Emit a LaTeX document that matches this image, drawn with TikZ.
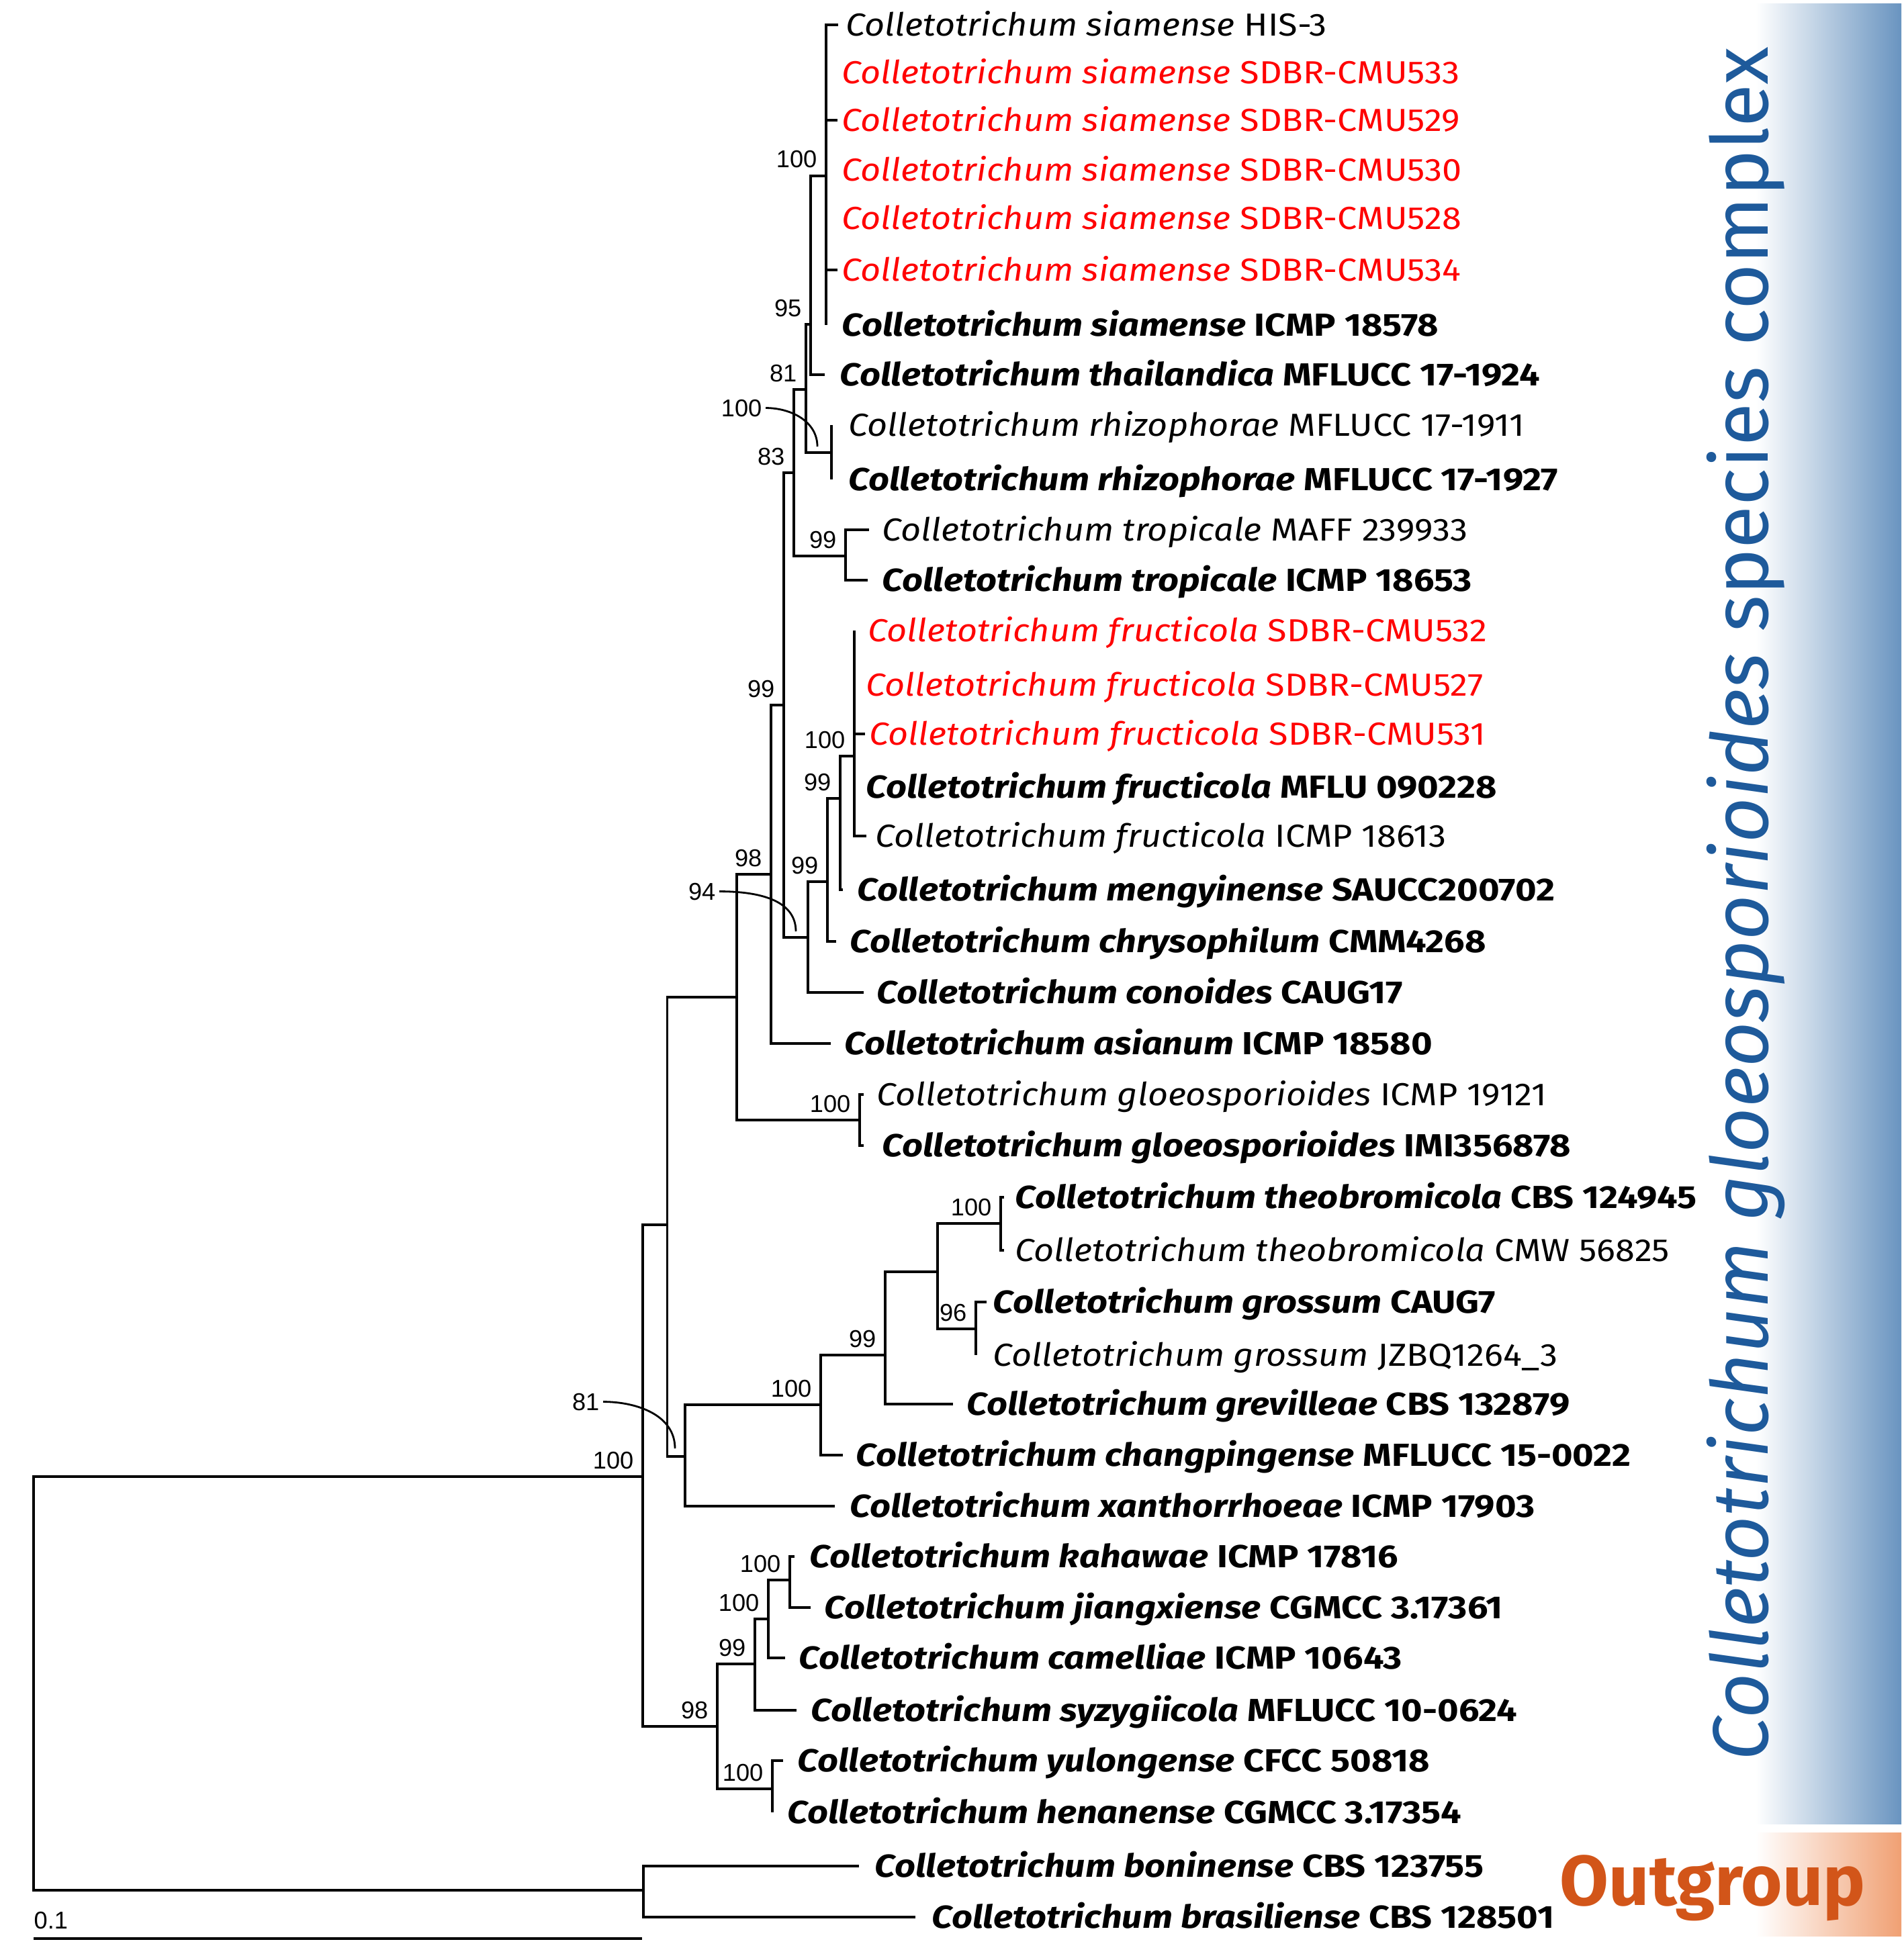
\documentclass[tikz,border=0pt]{standalone}
\usepackage{fontspec}
\setmainfont{Fira Sans}[UprightFeatures={FakeStretch=1.10}, ItalicFeatures={FakeStretch=1.10}, BoldFeatures={FakeStretch=1.14}, BoldItalicFeatures={FakeStretch=1.14}]
\newfontfamily\titlefont{Fira Sans}
\newfontfamily\numfont{Liberation Sans}
\usetikzlibrary{positioning}
\definecolor{isored}{RGB}{255,0,0}
\definecolor{titleblue}{RGB}{30,90,155}
\definecolor{barblue}{RGB}{105,148,192}
\definecolor{outorange}{RGB}{210,85,25}
\definecolor{barorange}{RGB}{240,160,115}
\tikzset{
  br/.style={line width=0.95pt},
  sp/.style={anchor=base west, inner sep=0pt, yshift=-1.65mm, font=\fontsize{13.5}{16}\selectfont},
  spb/.style={sp, font=\fontsize{13.5}{16}\selectfont\bfseries},
  spr/.style={sp, text=isored},
  bs/.style={anchor=base east, inner sep=0pt, xshift=-1.3mm, yshift=1.2mm, font=\numfont\fontsize{10.3}{12}\selectfont},
  bsl/.style={anchor=base east, inner sep=0pt, font=\numfont\fontsize{10.3}{12}\selectfont},
  hook/.style={line width=0.8pt}
}

\begin{document}
\begin{tikzpicture}
\useasboundingbox (0,0) rectangle (28.35,-29.07);
\shade[left color=white, right color=barblue] (26.14,-0.06) rectangle (28.31,-27.16);
\shade[left color=white, right color=barorange] (26.14,-27.29) rectangle (28.31,-28.83);
\node[rotate=90, anchor=base, inner sep=0pt, text=titleblue, font=\titlefont\fontsize{33.3}{38}\selectfont] (cgsc) at (26.32,-13.46) {\textit{Colletotrichum gloeosporioides} species complex};
\node[anchor=base, inner sep=0pt, text=outorange, font=\titlefont\fontsize{30}{34}\selectfont\bfseries] (outg) at (25.50,-28.37) {Outgroup};

\coordinate (root) at (0.50,-25.07);
\coordinate (nIn) at (9.57,-21.99);
\coordinate (nOut) at (9.58,-28.15);
\coordinate (nI2) at (9.935,-18.24);
\coordinate (nG) at (10.97,-14.85);
\coordinate (n98a) at (11.48,-13.02);
\coordinate (n99b) at (11.67,-10.50);
\coordinate (n83) at (11.82,-7.04);
\coordinate (n81a) at (12.00,-5.80);
\coordinate (n95) at (12.07,-4.83);
\coordinate (nA) at (12.30,-2.62);
\coordinate (nRh) at (12.38,-6.74);
\coordinate (nTr) at (12.59,-8.28);
\coordinate (n94) at (12.03,-13.96);
\coordinate (n99d) at (12.32,-13.13);
\coordinate (n99c) at (12.51,-11.89);
\coordinate (nFr) at (12.72,-11.26);
\coordinate (nGl) at (12.80,-16.68);
\coordinate (n81b) at (10.20,-21.69);
\coordinate (n100c) at (12.22,-20.92);
\coordinate (n99e) at (13.18,-20.18);
\coordinate (nTG) at (13.96,-18.94);
\coordinate (nTh) at (14.90,-18.22);
\coordinate (nGr) at (14.53,-19.79);
\coordinate (n98b) at (10.68,-25.71);
\coordinate (n99f) at (11.24,-24.78);
\coordinate (nJ) at (11.44,-24.11);
\coordinate (nK) at (11.76,-23.53);
\coordinate (nY) at (11.50,-26.64);

\coordinate (t1) at (12.48,-0.37);
\node[sp] (s1) at (12.59,-0.37) {\textit{Colletotrichum siamense} HIS-3};
\coordinate (t2) at (12.30,-1.08);
\node[spr] (s2) at (12.53,-1.08) {\textit{Colletotrichum siamense} SDBR-CMU533};
\coordinate (t3) at (12.47,-1.79);
\node[spr] (s3) at (12.53,-1.79) {\textit{Colletotrichum siamense} SDBR-CMU529};
\coordinate (t4) at (12.30,-2.53);
\node[spr] (s4) at (12.53,-2.53) {\textit{Colletotrichum siamense} SDBR-CMU530};
\coordinate (t5) at (12.30,-3.25);
\node[spr] (s5) at (12.53,-3.25) {\textit{Colletotrichum siamense} SDBR-CMU528};
\coordinate (t6) at (12.47,-4.02);
\node[spr] (s6) at (12.53,-4.02) {\textit{Colletotrichum siamense} SDBR-CMU534};
\coordinate (t7) at (12.30,-4.84);
\node[spb] (s7) at (12.53,-4.84) {\textit{Colletotrichum siamense} ICMP 18578};
\coordinate (t8) at (12.28,-5.58);
\node[spb] (s8) at (12.50,-5.58) {\textit{Colletotrichum thailandica} MFLUCC 17-1924};
\coordinate (t9) at (12.38,-6.33);
\node[sp] (s9) at (12.63,-6.33) {\textit{Colletotrichum rhizophorae} MFLUCC 17-1911};
\coordinate (t10) at (12.38,-7.14);
\node[spb] (s10) at (12.63,-7.14) {\textit{Colletotrichum rhizophorae} MFLUCC 17-1927};
\coordinate (t11) at (12.94,-7.89);
\node[sp] (s11) at (13.13,-7.89) {\textit{Colletotrichum tropicale} MAFF 239933};
\coordinate (t12) at (12.92,-8.64);
\node[spb] (s12) at (13.13,-8.64) {\textit{Colletotrichum tropicale} ICMP 18653};
\coordinate (t13) at (12.72,-9.39);
\node[spr] (s13) at (12.92,-9.39) {\textit{Colletotrichum fructicola} SDBR-CMU532};
\coordinate (t14) at (12.72,-10.20);
\node[spr] (s14) at (12.89,-10.20) {\textit{Colletotrichum fructicola} SDBR-CMU527};
\coordinate (t15) at (12.88,-10.93);
\node[spr] (s15) at (12.94,-10.93) {\textit{Colletotrichum fructicola} SDBR-CMU531};
\coordinate (t16) at (12.72,-11.72);
\node[spb] (s16) at (12.89,-11.72) {\textit{Colletotrichum fructicola} MFLU 090228};
\coordinate (t17) at (12.90,-12.45);
\node[sp] (s17) at (13.03,-12.45) {\textit{Colletotrichum fructicola} ICMP 18613};
\coordinate (t18) at (12.55,-13.25);
\node[spb] (s18) at (12.76,-13.25) {\textit{Colletotrichum mengyinense} SAUCC200702};
\coordinate (t19) at (12.45,-14.02);
\node[spb] (s19) at (12.65,-14.02) {\textit{Colletotrichum chrysophilum} CMM4268};
\coordinate (t20) at (12.86,-14.78);
\node[spb] (s20) at (13.05,-14.78) {\textit{Colletotrichum conoides} CAUG17};
\coordinate (t21) at (12.37,-15.54);
\node[spb] (s21) at (12.57,-15.54) {\textit{Colletotrichum asianum} ICMP 18580};
\coordinate (t22) at (12.86,-16.30);
\node[sp] (s22) at (13.05,-16.30) {\textit{Colletotrichum gloeosporioides} ICMP 19121};
\coordinate (t23) at (12.86,-17.06);
\node[spb] (s23) at (13.13,-17.06) {\textit{Colletotrichum gloeosporioides} IMI356878};
\coordinate (t24) at (14.95,-17.83);
\node[spb] (s24) at (15.11,-17.83) {\textit{Colletotrichum theobromicola} CBS 124945};
\coordinate (t25) at (14.95,-18.62);
\node[sp] (s25) at (15.11,-18.62) {\textit{Colletotrichum theobromicola} CMW 56825};
\coordinate (t26) at (14.69,-19.39);
\node[spb] (s26) at (14.78,-19.39) {\textit{Colletotrichum grossum} CAUG7};
\coordinate (t27) at (14.53,-20.18);
\node[sp] (s27) at (14.78,-20.18) {\textit{Colletotrichum grossum} JZBQ1264\_3};
\coordinate (t28) at (14.19,-20.91);
\node[spb] (s28) at (14.39,-20.91) {\textit{Colletotrichum grevilleae} CBS 132879};
\coordinate (t29) at (12.55,-21.67);
\node[spb] (s29) at (12.74,-21.67) {\textit{Colletotrichum changpingense} MFLUCC 15-0022};
\coordinate (t30) at (12.43,-22.43);
\node[spb] (s30) at (12.65,-22.43) {\textit{Colletotrichum xanthorrhoeae} ICMP 17903};
\coordinate (t31) at (11.83,-23.18);
\node[spb] (s31) at (12.05,-23.18) {\textit{Colletotrichum kahawae} ICMP 17816};
\coordinate (t32) at (12.07,-23.94);
\node[spb] (s32) at (12.27,-23.94) {\textit{Colletotrichum jiangxiense} CGMCC 3.17361};
\coordinate (t33) at (11.69,-24.69);
\node[spb] (s33) at (11.89,-24.69) {\textit{Colletotrichum camelliae} ICMP 10643};
\coordinate (t34) at (11.86,-25.47);
\node[spb] (s34) at (12.07,-25.47) {\textit{Colletotrichum syzygiicola} MFLUCC 10-0624};
\coordinate (t35) at (11.66,-26.22);
\node[spb] (s35) at (11.87,-26.22) {\textit{Colletotrichum yulongense} CFCC 50818};
\coordinate (t36) at (11.50,-26.99);
\node[spb] (s36) at (11.72,-26.99) {\textit{Colletotrichum henanense} CGMCC 3.17354};
\coordinate (t37) at (12.79,-27.79);
\node[spb] (s37) at (13.02,-27.79) {\textit{Colletotrichum boninense} CBS 123755};
\coordinate (t38) at (13.63,-28.55);
\node[spb] (s38) at (13.87,-28.55) {\textit{Colletotrichum brasiliense} CBS 128501};

\foreach \a/\b in {root/nIn,root/nOut,nOut/t37,nOut/t38,nIn/nI2,nIn/n98b,nI2/nG,nI2/n81b,
  nG/n98a,nG/nGl,n98a/n99b,n98a/t21,n99b/n83,n99b/n94,n83/n81a,n83/nTr,n81a/n95,n81a/nRh,
  n95/nA,n95/t8,nA/t1,nA/t2,nA/t3,nA/t4,nA/t5,nA/t6,nA/t7,nRh/t9,nRh/t10,nTr/t11,nTr/t12,
  n94/n99d,n94/t20,n99d/n99c,n99d/t19,n99c/nFr,n99c/t18,nFr/t13,nFr/t14,nFr/t15,nFr/t16,nFr/t17,
  nGl/t22,nGl/t23,n81b/n100c,n81b/t30,n100c/n99e,n100c/t29,n99e/nTG,n99e/t28,nTG/nTh,nTG/nGr,
  nTh/t24,nTh/t25,nGr/t26,nGr/t27,n98b/n99f,n98b/nY,n99f/nJ,n99f/t34,nJ/nK,nJ/t33,nK/t31,nK/t32,
  nY/t35,nY/t36}
  \draw[br] (\a) |- (\b);

\node[bs] (bA) at (nA) {100};
\node[bs] (b95) at (n95) {95};
\node[bs] (b81a) at (n81a) {81};
\node[bs] (b83) at (n83) {83};
\node[bs] (bTr) at (nTr) {99};
\node[bs] (b99b) at (n99b) {99};
\node[bs] (bFr) at (nFr) {100};
\node[bs] (b99c) at (n99c) {99};
\node[bs] (b99d) at (n99d) {99};
\node[bs] (b98a) at (n98a) {98};
\node[bs] (bGl) at (nGl) {100};
\node[bs] (bTh) at (nTh) {100};
\node[bs] (bGr) at (nGr) {96};
\node[bs] (b99e) at (n99e) {99};
\node[bs] (b100c) at (n100c) {100};
\node[bs] (bIn) at (nIn) {100};
\node[bs] (bK) at (nK) {100};
\node[bs] (bJ) at (nJ) {100};
\node[bs] (b99f) at (n99f) {99};
\node[bs] (b98b) at (n98b) {98};
\node[bs] (bY) at (nY) {100};

\node[bsl] (bRh) at (11.35,-6.20) {100};
\node[bsl] (b94) at (10.66,-13.40) {94};
\node[bsl] (b81b) at (8.93,-21.00) {81};
\coordinate (c1) at (12.17,-6.65);
\coordinate (c2) at (11.85,-13.87);
\coordinate (c3) at (10.05,-21.57);
\draw[hook] ([xshift=0.5mm]bRh.east) to[out=0,in=90] (c1);
\draw[hook] ([xshift=0.5mm]b94.east) to[out=0,in=90] (c2);
\draw[hook] ([xshift=0.5mm]b81b.east) to[out=0,in=90] (c3);

\coordinate (sb1) at (0.50,-28.87);
\coordinate (sb2) at (9.56,-28.87);
\draw[br] (sb1) -- (sb2);
\node[anchor=base west, inner sep=0pt, font=\numfont\fontsize{10.3}{12}\selectfont] (sbl) at (0.50,-28.72) {0.1};
\end{tikzpicture}
\end{document}
